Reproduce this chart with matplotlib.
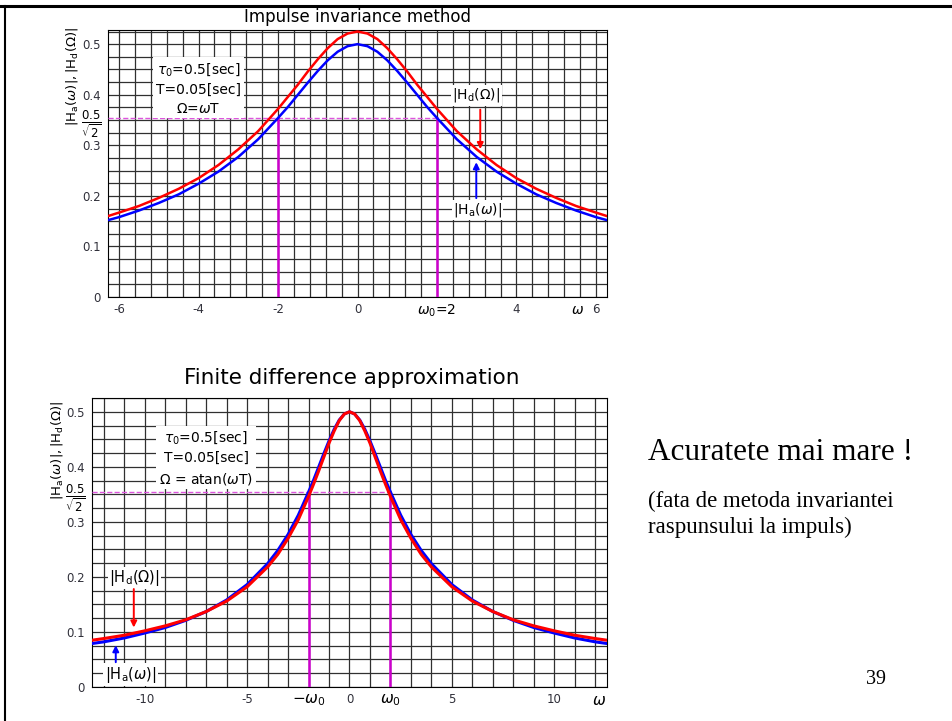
import numpy as np
import matplotlib
matplotlib.use('Agg')
import matplotlib.pyplot as plt
from matplotlib.lines import Line2D

plt.rcParams['font.family'] = ['DejaVu Sans']
plt.rcParams['mathtext.fontset'] = 'dejavusans'

#############
# data
#############
# impulse invariance method (top)
w_top = [-6.28, -6.0, -5.5, -5.0, -4.5, -4.0, -3.5, -3.0, -2.5, -2.0, -1.75, -1.5, -1.25, -1.0, -0.75, -0.5, -0.25,
         0.0, 0.25, 0.5, 0.75, 1.0, 1.25, 1.5, 1.75, 2.0, 2.5, 3.0, 3.5, 4.0, 4.5, 5.0, 5.5, 6.0, 6.28]
ha_top = [0.152, 0.158, 0.171, 0.186, 0.203, 0.224, 0.248, 0.277, 0.312, 0.354, 0.376, 0.400, 0.424, 0.447, 0.468, 0.485, 0.496,
          0.500, 0.496, 0.485, 0.468, 0.447, 0.424, 0.400, 0.376, 0.354, 0.312, 0.277, 0.248, 0.224, 0.203, 0.186, 0.171, 0.158, 0.152]
hd_top = [0.160, 0.167, 0.180, 0.196, 0.214, 0.235, 0.261, 0.292, 0.328, 0.372, 0.396, 0.420, 0.446, 0.470, 0.492, 0.510, 0.521,
          0.525, 0.521, 0.510, 0.492, 0.470, 0.446, 0.420, 0.396, 0.372, 0.328, 0.292, 0.261, 0.235, 0.214, 0.196, 0.180, 0.167, 0.160]

# finite difference approximation (bottom)
w_bot = [-12.57, -12.0, -11.0, -10.0, -9.0, -8.0, -7.0, -6.0, -5.0, -4.0, -3.5, -3.0, -2.5, -2.0, -1.75, -1.5, -1.25, -1.0, -0.75, -0.5, -0.25,
         0.0, 0.25, 0.5, 0.75, 1.0, 1.25, 1.5, 1.75, 2.0, 2.5, 3.0, 3.5, 4.0, 5.0, 6.0, 7.0, 8.0, 9.0, 10.0, 11.0, 12.0, 12.57]
ha_bot = [0.079, 0.082, 0.089, 0.098, 0.108, 0.121, 0.137, 0.158, 0.186, 0.224, 0.248, 0.277, 0.312, 0.354, 0.376, 0.400, 0.424, 0.447, 0.468, 0.485, 0.496,
          0.500, 0.496, 0.485, 0.468, 0.447, 0.424, 0.400, 0.376, 0.354, 0.312, 0.277, 0.248, 0.224, 0.186, 0.158, 0.137, 0.121, 0.108, 0.098, 0.089, 0.082, 0.079]
hd_bot = [0.085, 0.088, 0.094, 0.102, 0.111, 0.122, 0.137, 0.156, 0.182, 0.218, 0.241, 0.270, 0.304, 0.346, 0.369, 0.393, 0.418, 0.443, 0.465, 0.484, 0.496,
          0.500, 0.496, 0.484, 0.465, 0.443, 0.418, 0.393, 0.369, 0.346, 0.304, 0.270, 0.241, 0.218, 0.182, 0.156, 0.137, 0.122, 0.111, 0.102, 0.094, 0.088, 0.085]

w0 = 2.0
h_cut = 0.354

top_xticks = [-6, -4, -2, 0, 2, 4, 5.55, 6]
top_xlabels = ['-6', '-4', '-2', '0', r'$\omega_0$=2', '4', r'$\omega$', '6']
bot_xticks = [-10, -5, -2, 0, 2, 5, 10, 12.2]
bot_xlabels = ['-10', '-5', r'$-\omega_0$', '0', r'$\omega_0$', '5', '10', r'$\omega$']
yticks = [0, 0.1, 0.2, 0.3, 0.354, 0.4, 0.5]
ylabels = ['0', '0.1', '0.2', '0.3', r'$\frac{0.5}{\sqrt{2}}$', '0.4', '0.5']

GRID = '#303030'
TICK = '#30303a'
MAG = '#cc00cc'

W, H = 953, 721
fig = plt.figure(figsize=(W / 100, H / 100), dpi=100)

def px_axes(l, t, r, b):
    return fig.add_axes([l / W, 1 - b / H, (r - l) / W, (b - t) / H])

ax1 = px_axes(108, 30, 607, 297)
ax2 = px_axes(92, 398, 607, 687)

def setup(ax, xlim, ylim, xminor, xticks, xlabels):
    ax.set_xlim(*xlim)
    ax.set_ylim(*ylim)
    ax.xaxis.remove_overlapping_locs = False
    ax.yaxis.remove_overlapping_locs = False
    ax.set_xticks(xminor, minor=True)
    ax.set_yticks(np.arange(0, 0.526, 0.025), minor=True)
    ax.set_xticks(xticks)
    ax.set_xticklabels(xlabels)
    ax.set_yticks(yticks)
    ax.set_yticklabels(ylabels)
    ax.grid(which='minor', color=GRID, lw=0.9)
    ax.grid(which='major', visible=False)
    ax.set_axisbelow(True)
    ax.tick_params(which='both', length=0, labelsize=8.5, labelcolor=TICK)
    ax.tick_params(axis='x', pad=4)
    ax.tick_params(axis='y', pad=5)
    for lab in ax.get_yticklabels():
        if 'frac' in lab.get_text():
            lab.set_fontsize(12)
            lab.set_color('black')
    for s in ax.spines.values():
        s.set_color('black')
        s.set_linewidth(0.8)

setup(ax1, (-6.28, 6.28), (0, 0.528), np.arange(-6, 6.01, 0.4), top_xticks, top_xlabels)
setup(ax2, (-12.57, 12.57), (0, 0.52), np.arange(-12, 12.01, 1.0), bot_xticks, bot_xlabels)

for lab in ax2.get_xticklabels():
    if 'omega' in lab.get_text():
        lab.set_fontsize(11)
        lab.set_color('black')
for lab in ax1.get_xticklabels():
    if 'omega' in lab.get_text():
        lab.set_fontsize(10)
        lab.set_color('black')

#############
# curves
#############
for ax, w, ha, hd, lw in [(ax1, w_top, ha_top, hd_top, 1.8), (ax2, w_bot, ha_bot, hd_bot, 2.2)]:
    ax.plot([ax.get_xlim()[0], w0], [h_cut, h_cut], '--', color='#dd55dd', lw=1.0, zorder=3)
    ax.plot([-w0, -w0], [0, h_cut], color=MAG, lw=1.8, zorder=3)
    ax.plot([w0, w0], [0, h_cut], color=MAG, lw=1.8, zorder=3)
    ax.plot(w, ha, color='#0000ff', lw=lw, zorder=4)
    ax.plot(w, hd, color='#ff0000', lw=lw, zorder=5)

box = dict(facecolor='white', edgecolor='none', pad=2)
ax1.text(-4.0, 0.413, r'$\tau_0$=0.5[sec]' + '\nT=0.05[sec]\n' + r'$\Omega$=$\omega$T',
         ha='center', va='center', fontsize=10, linespacing=1.45, bbox=box, zorder=6)
ax2.text(-7.0, 0.416, r'$\tau_0$=0.5[sec]' + '\nT=0.05[sec]\n' + r'$\Omega$ = atan($\omega$T)',
         ha='center', va='center', fontsize=10, linespacing=1.45, bbox=box, zorder=6)

lbl_d = r'$|\mathrm{H_d}(\Omega)|$'
lbl_a = r'$|\mathrm{H_a}(\omega)|$'
ax1.text(2.99, 0.399, lbl_d, ha='center', va='center', fontsize=10, bbox=dict(facecolor='white', edgecolor='none', pad=1), zorder=6)
ax1.text(3.02, 0.172, lbl_a, ha='center', va='center', fontsize=10, bbox=dict(facecolor='white', edgecolor='none', pad=1), zorder=6)
ax1.annotate('', xy=(3.09, 0.287), xytext=(3.09, 0.376),
             arrowprops=dict(arrowstyle='-|>', color='red', lw=1.4, mutation_scale=9), zorder=6)
ax1.annotate('', xy=(2.99, 0.272), xytext=(2.99, 0.19),
             arrowprops=dict(arrowstyle='-|>', color='blue', lw=1.4, mutation_scale=9), zorder=6)

ax2.text(-10.5, 0.198, lbl_d, ha='center', va='center', fontsize=10.5, bbox=dict(facecolor='white', edgecolor='none', pad=1), zorder=6)
ax2.text(-10.7, 0.022, lbl_a, ha='center', va='center', fontsize=10.5, bbox=dict(facecolor='white', edgecolor='none', pad=1), zorder=6)
ax2.annotate('', xy=(-10.53, 0.103), xytext=(-10.53, 0.183),
             arrowprops=dict(arrowstyle='-|>', color='red', lw=1.4, mutation_scale=9), zorder=6)
ax2.annotate('', xy=(-11.41, 0.081), xytext=(-11.41, 0.040),
             arrowprops=dict(arrowstyle='-|>', color='blue', lw=1.4, mutation_scale=9), zorder=6)

#############
# titles, axis labels, slide text
#############
ylab = r'$|\mathrm{H_a}(\omega)|,|\mathrm{H_d}(\Omega)|$'
fig.text(72 / W, 1 - 76 / H, ylab, rotation=90, ha='center', va='center', fontsize=9.5)
fig.text(57 / W, 1 - 450 / H, ylab, rotation=90, ha='center', va='center', fontsize=9.5)
fig.text(358 / W, 1 - 17 / H, 'Impulse invariance method', ha='center', va='center', fontsize=12)
fig.text(352 / W, 1 - 378 / H, 'Finite difference approximation', ha='center', va='center', fontsize=15.5)

serif = ['Liberation Serif', 'DejaVu Serif']
fig.text(648 / W, 1 - 452 / H, 'Acuratete mai mare !', ha='left', va='center', fontsize=22.5, family=serif)
fig.text(648 / W, 1 - 514 / H, '(fata de metoda invariantei\nraspunsului la impuls)', ha='left', va='center',
         fontsize=16.5, family=serif, linespacing=1.3)
fig.text(876 / W, 1 - 680 / H, '39', ha='center', va='center', fontsize=14.5, family=serif)

# slide border
fig.add_artist(Line2D([0, 1], [1 - 5.5 / H, 1 - 5.5 / H], color='black', lw=2.2, transform=fig.transFigure))
fig.add_artist(Line2D([5.5 / W, 5.5 / W], [0, 1 - 5.5 / H], color='black', lw=1.5, transform=fig.transFigure))

plt.savefig('out.png', dpi=100)
